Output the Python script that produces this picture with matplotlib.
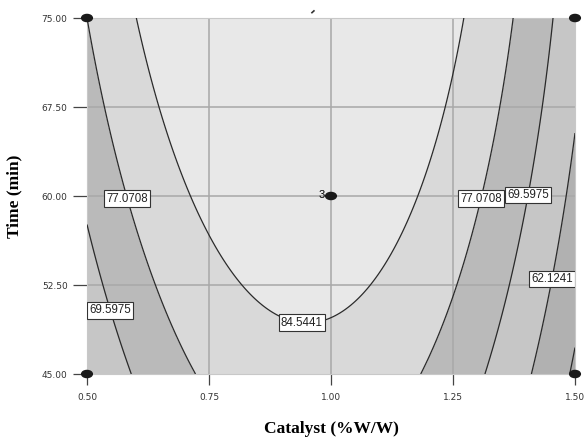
import numpy as np
import matplotlib
matplotlib.use("Agg")
from matplotlib import pyplot as plt
from matplotlib.patches import Ellipse

# quadratic response surface in coded units (A = catalyst, B = time)
# terms: const, A, B, AB, A^2, B^2
coef = [89.4476, -5.2782, 6.4915, -0.7872, -23.9383, -0.9983]
levels = [54.6508, 62.1241, 69.5975, 77.0708, 84.5441]
band_colors = ['#a9a9a9', '#b1b1b1', '#c6c6c6', '#bababa', '#d9d9d9', '#e8e8e8']

# design points
pt_x = [0.5, 1.5, 0.5, 1.5, 1.0]
pt_y = [75, 75, 45, 45, 60]
center_reps = "3"

xticks = [0.50, 0.75, 1.00, 1.25, 1.50]
yticks = [45.00, 52.50, 60.00, 67.50, 75.00]

# where the contour labels sit
lab_pos = [(0.584, 59.8), (1.305, 59.8), (1.404, 60.1), (0.551, 50.4), (0.941, 49.7), (1.453, 53.0)]

cat = np.linspace(0.5, 1.5, 300)
tim = np.linspace(45, 75, 300)
X, Y = np.meshgrid(cat, tim)
A = (X - 1.0) / 0.5
B = (Y - 60.0) / 15.0
Z = coef[0] + coef[1]*A + coef[2]*B + coef[3]*A*B + coef[4]*A*A + coef[5]*B*B

fig = plt.figure(figsize=(5.84, 4.4), dpi=100)
ax = fig.add_axes([87/584, 1-374/440, 488/584, 356/440])

ax.contourf(X, Y, Z, levels=[0] + levels + [200], colors=band_colors, zorder=1)
for v in xticks[1:-1]:
    ax.axvline(v, color='#a8a8a8', lw=1.1, zorder=2)
for v in yticks[1:-1]:
    ax.axhline(v, color='#a8a8a8', lw=1.1, zorder=2)
cs = ax.contour(X, Y, Z, levels=levels, colors='#2a2a2a', linewidths=0.9, zorder=3)
labs = ax.clabel(cs, fmt='%.4f', inline=False, manual=lab_pos, fontsize=8.3, colors='#222222')
for t in labs:
    t.set_rotation(0)
    t.set_fontfamily('Liberation Sans')
    t.set_bbox(dict(boxstyle='square,pad=0.2', facecolor='white', edgecolor='#333333', lw=0.8))
    t.set_zorder(5)

for x, y in zip(pt_x, pt_y):
    ax.add_patch(Ellipse((x, y), 0.022, 0.6, color='#1a1a1a', zorder=6, clip_on=False))
ax.text(0.988, 60.05, center_reps, fontsize=8, ha='right', va='center',
        family='Liberation Sans', zorder=6)
ax.plot([0.961, 0.965], [75.45, 75.6], color='#333333', lw=1.2, clip_on=False)

ax.set_xlim(0.5, 1.5)
ax.set_ylim(45, 75)
ax.set_xticks(xticks)
ax.set_yticks(yticks)
ax.set_xticklabels(['%.2f' % v for v in xticks])
ax.set_yticklabels(['%.2f' % v for v in yticks])
ax.tick_params(axis='x', direction='out', length=8, width=0.9, color='#444444', pad=6,
               labelsize=6.5, labelcolor='#333333')
ax.tick_params(axis='y', direction='out', length=10, width=0.9, color='#444444', pad=4,
               labelsize=6.5, labelcolor='#333333')
for s in ax.spines.values():
    s.set_color('#c8c8c8')
    s.set_linewidth(0.8)

ax.set_xlabel('Catalyst (%W/W)', family='Liberation Serif', fontweight='bold', fontsize=12.5)
ax.set_ylabel('Time (min)', family='Liberation Serif', fontweight='bold', fontsize=12.5)
ax.xaxis.set_label_coords(0.5, -(421 - 374) / 356)
ax.yaxis.set_label_coords(-(87 - 22) / 488, 0.5)

fig.savefig('out.png', dpi=100)
